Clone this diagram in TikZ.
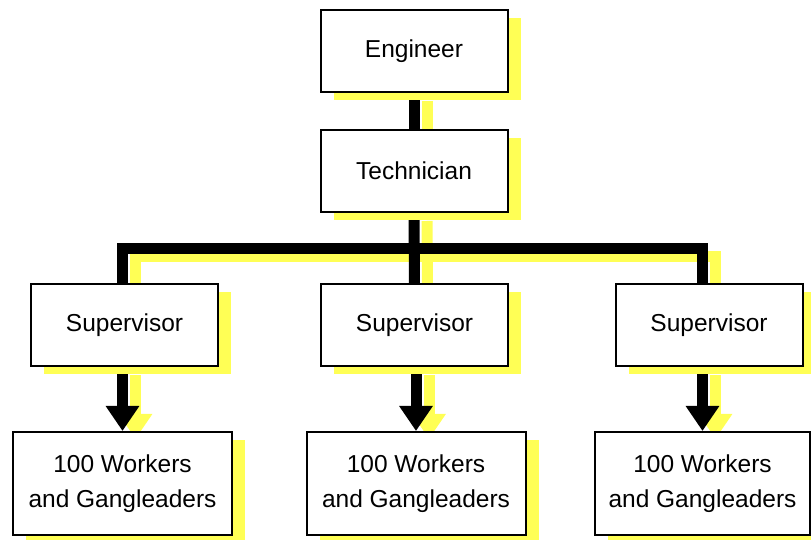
\documentclass[tikz,border=0pt]{standalone}
\usepackage{fontspec}
\setmainfont{Liberation Sans}
\usetikzlibrary{arrows.meta, shadows, backgrounds}
\definecolor{shadowyellow}{RGB}{255,255,85}
\tikzset{
    box/.style={draw=black, line width=1pt, fill=white, minimum width=93.5pt, minimum height=41pt,
        inner sep=0pt, align=center, font=\fontsize{12.25}{17.2}\selectfont,
        drop shadow={shadow xshift=6.5pt, shadow yshift=-4pt, fill=shadowyellow, opacity=1}},
    crewbox/.style={box, minimum width=109.5pt, minimum height=51.5pt},
    bar/.style={line width=5.5pt},
    feed/.style={bar, -{Triangle[width=16pt, length=12.5pt]}}
}

\begin{document}
\begin{tikzpicture}[x=0.5pt, y=-0.5pt]
                \useasboundingbox (0,0) rectangle (811,540);

                    \node[box] (eng) at (414,51) {Engineer};
                    \node[box] (tech) at (414,171) {Technician};
                    \node[box] (supL) at (124.5,325) {Supervisor};
                    \node[box] (supM) at (414.5,325.5) {Supervisor};
                    \node[box] (supR) at (709,325) {Supervisor};
                    \node[crewbox] (crewL) at (122.5,483.5) {100 Workers\\and Gangleaders};
                    \node[crewbox] (crewM) at (416,483.5) {100 Workers\\and Gangleaders};
                    \node[crewbox, minimum width=107.5pt] (crewR) at (702.5,483.5) {100 Workers\\and Gangleaders};
                    \coordinate (bus) at (414,248.5);

                    % yellow copy first, then the black lines
                    \begin{scope}[on background layer]
                    \foreach \dx/\dy/\clr in {6.5pt/-4pt/shadowyellow, 0pt/0pt/black} {
                        \begin{scope}[transform canvas={shift={(\dx,\dy)}}, color=\clr]
                            \draw[bar] (eng) -- (tech);
                            \draw[bar] (tech) -- (supM);
                            \draw[bar] (supL.north -| crewL) |- (bus) -| (supR.north -| crewR);
                            \draw[feed] (supL.south -| crewL) -- (crewL.north);
                            \draw[feed] (supM.south -| crewM) -- (crewM.north);
                            \draw[feed] (supR.south -| crewR) -- (crewR.north);
                        \end{scope}
                    }
                    \end{scope}

                \end{tikzpicture}
\end{document}
